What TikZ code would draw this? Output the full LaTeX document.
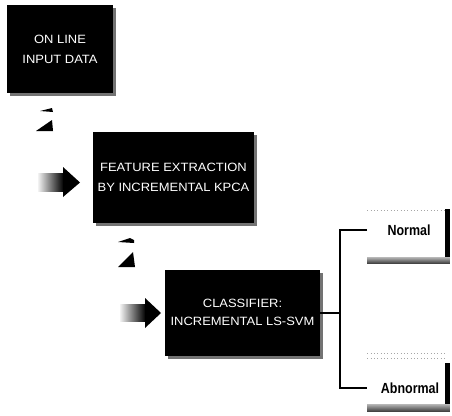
\documentclass[tikz,border=0pt]{standalone}
\usepackage{fontspec}
\setmainfont{Liberation Sans}
\usetikzlibrary{shadows,calc}
\newdimen\px \px=0.75pt
% two centred lines, slightly widened
\newcommand\twolines[2]{\scalebox{1.08}[1]{\begin{tabular}{@{}c@{}}#1\\#2\end{tabular}}}
\tikzset{
  stage/.style={fill=black, text=white, inner sep=0pt, align=center,
    font=\fontsize{9}{15}\selectfont,
    drop shadow={shadow xshift=2.5\px, shadow yshift=-2.5\px, fill=black!55, opacity=1}},
  outbox/.style={fill=white, draw=none, inner sep=0pt,
    minimum width=77\px, minimum height=46\px},
  outtop/.style={black!35, line width=0.5pt, dotted},
  outlbl/.style={inner sep=0pt, font=\fontsize{11}{12}\bfseries},
  link/.style={line width=1.4pt, black},
  headfill/.style={fill=black},
}
\begin{document}
\begin{tikzpicture}[x=0.75pt, y=-0.75pt]
\useasboundingbox (0,0) rectangle (452,415);

% processing stages
\node[stage, minimum width=106\px, minimum height=88\px] (inp) at (60,49)
  {\raisebox{-3\px}{\twolines{ON LINE}{INPUT DATA}}};
\node[stage, minimum width=161\px, minimum height=91\px] (fex) at (173.5,177.5)
  {\twolines{FEATURE EXTRACTION}{BY INCREMENTAL KPCA}};
\node[stage, minimum width=155\px, minimum height=86\px, font=\fontsize{9}{13.5}\selectfont] (clf) at (242.5,313)
  {\twolines{CLASSIFIER:}{INCREMENTAL LS-SVM}};

% bent arrow into the feature extraction stage
\fill[headfill] (40,111) -- (52,108) -- (53,112) -- cycle;
\fill[headfill] (36,131) -- (52,120) -- (53,131) -- cycle;
\shade[left color=black!5, right color=black] (38,173.5) rectangle (63.5,191.5);
\fill[headfill] (63,167) -- (80,182.5) -- (63,197) -- cycle;

% bent arrow into the classifier stage
\fill[headfill] (118,242) -- (130,238) -- (134,240) -- (134,243) -- cycle;
\fill[headfill] (118,267) -- (133,252) -- (135,267) -- cycle;
\shade[left color=black!5, right color=black] (120,304.5) rectangle (145.5,321.5);
\fill[headfill] (145,298) -- (161,313) -- (145,328) -- cycle;

% outcome boxes with their shadows
\node[outbox] (nbox) at (406,234) {};
\draw[outtop] (nbox.north west) -- (nbox.north east);
\fill[black] ([yshift=2\px]nbox.north east) rectangle ([xshift=5\px,yshift=-5\px]nbox.south east);
\shade[top color=black!30, bottom color=black!75] (nbox.south west) rectangle ([xshift=5\px,yshift=-6\px]nbox.south east);
\node[outlbl] (nrm) at (409,230) {\scalebox{0.85}[1]{Normal}};

\node[outbox, minimum height=45\px] (abox) at (406,381.5) {};
\draw[outtop] (abox.north west) -- (abox.north east);
\draw[outtop] ([yshift=5\px]abox.north west) -- ([yshift=5\px]abox.north east);
\fill[black] ([yshift=-4\px]abox.north east) rectangle ([xshift=5\px,yshift=-6\px]abox.south east);
\shade[top color=black!30, bottom color=black!75] (abox.south west) rectangle ([xshift=5\px,yshift=-7\px]abox.south east);
\node[outlbl] (abn) at (410,388) {\scalebox{0.85}[1]{Abnormal}};

% classifier output split
\coordinate (split) at (340,313);
\draw[link] (clf.east) -- (split);
\draw[link] (nbox.west |- nrm) -| (split) |- (abox.west |- abn);
\end{tikzpicture}
\end{document}
